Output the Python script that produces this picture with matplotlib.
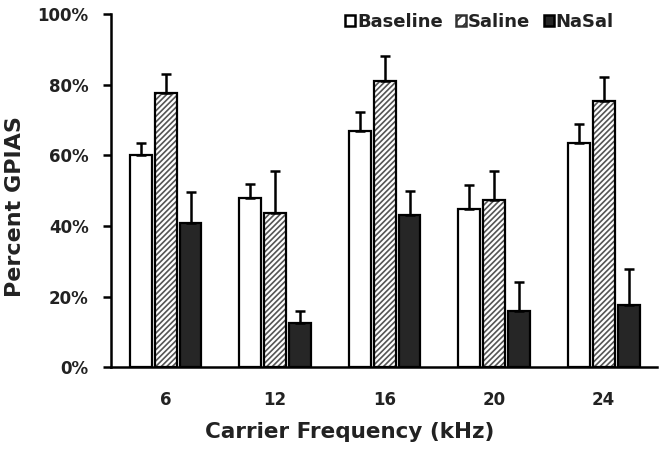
import numpy as np
import matplotlib.pyplot as plt
from matplotlib.ticker import PercentFormatter
from matplotlib.patches import Patch

plt.rcParams['font.family'] = ['DejaVu Sans']
plt.rcParams['font.weight'] = 'bold'
plt.rcParams['hatch.linewidth'] = 1.2

freqs = ['6', '12', '16', '20', '24']
baseline = [60.0, 47.8, 66.8, 44.8, 63.5]
baseline_err = [3.5, 4.2, 5.5, 6.7, 5.5]
saline = [77.6, 43.8, 81.0, 47.3, 75.3]
saline_err = [5.4, 11.7, 7.0, 8.2, 7.0]
nasal = [40.9, 12.6, 43.0, 16.0, 17.7]
nasal_err = [8.8, 3.2, 7.0, 8.0, 10.1]

x = np.arange(len(freqs))
w = 0.2
off = 0.227

fig = plt.figure(figsize=(6.64, 4.55), dpi=100)
ax = fig.add_axes([0.167, 0.193, 0.823, 0.776])

err_kw = dict(ecolor='black', elinewidth=1.8, capsize=3.5, capthick=1.8)

ax.bar(x - off, baseline, w, color='white', edgecolor='black', linewidth=1.6,
       yerr=[np.zeros(5), baseline_err], error_kw=err_kw, zorder=2)
# hatched fill in grey, then black outline on top
ax.bar(x, saline, w, color='white', edgecolor='#555555', hatch='//////', linewidth=0, zorder=2)
ax.bar(x, saline, w, color='none', edgecolor='black', linewidth=1.6,
       yerr=[np.zeros(5), saline_err], error_kw=err_kw, zorder=3)
ax.bar(x + off, nasal, w, color='#262626', edgecolor='black', linewidth=1.6,
       yerr=[np.zeros(5), nasal_err], error_kw=err_kw, zorder=2)

ax.set_xlim(-0.5, 4.49)
ax.set_ylim(0, 100)
ax.set_yticks(np.arange(0, 101, 20))
ax.yaxis.set_major_formatter(PercentFormatter(decimals=0))
ax.set_xticks(x)
ax.set_xticklabels(freqs)
ax.tick_params(axis='x', length=0, pad=17, labelsize=12, colors='#222222')
ax.tick_params(axis='y', length=6, width=1.8, pad=10, labelsize=12, labelcolor='#222222')
for s in ['top', 'right']:
    ax.spines[s].set_visible(False)
for s in ['left', 'bottom']:
    ax.spines[s].set_linewidth(1.8)

ax.set_ylabel('Percent GPIAS', fontsize=16, fontweight='bold', color='#222222')
ax.set_xlabel('Carrier Frequency (kHz)', fontsize=15.5, fontweight='bold', color='#222222')
ax.xaxis.set_label_coords(0.437, -0.155)
ax.yaxis.set_label_coords(-0.157, 0.455)

handles = [Patch(facecolor='white', edgecolor='black', linewidth=1.8),
           Patch(facecolor='white', edgecolor='#333333', hatch='///', linewidth=1.8),
           Patch(facecolor='#262626', edgecolor='black', linewidth=1.8)]
leg = ax.legend(handles, ['Baseline', 'Saline', 'NaSal'], ncol=3, loc='upper right',
                bbox_to_anchor=(0.95, 1.05), frameon=False, fontsize=13,
                handlelength=0.55, handleheight=0.55, handletextpad=0.1, columnspacing=0.75)
for t in leg.get_texts():
    t.set_color('#222222')

fig.savefig('out.png', dpi=100)
